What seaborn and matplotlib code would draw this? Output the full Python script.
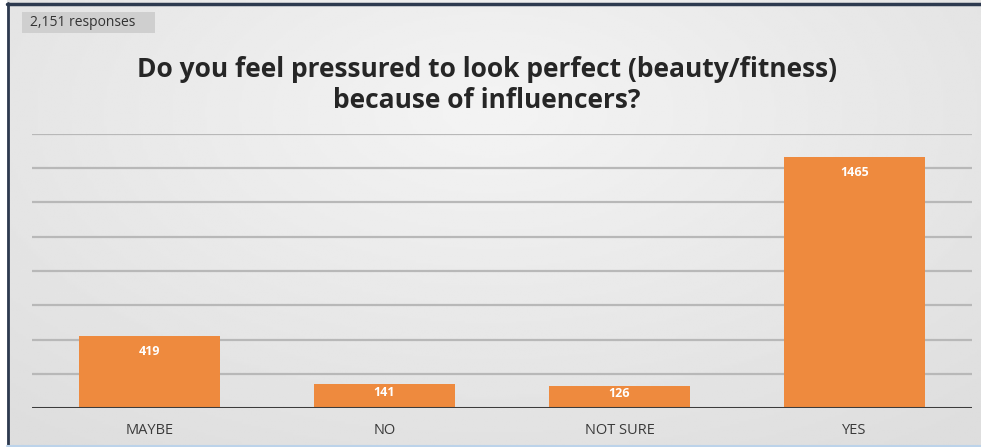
import numpy as np
import pandas as pd
import matplotlib
matplotlib.use("Agg")
import matplotlib.pyplot as plt
from matplotlib.lines import Line2D
from matplotlib.patches import Rectangle
import seaborn as sns

# Survey answers and their counts
categories = ["MAYBE", "NO", "NOT SURE", "YES"]
counts = [419, 141, 126, 1465]
total_label = "2,151 responses"
title = "Do you feel pressured to look perfect (beauty/fitness)\nbecause of influencers?"

df = pd.DataFrame({"answer": categories, "count": counts})

sns.set_theme(style="white")
plt.rcParams["font.family"] = ["Open Sans", "DejaVu Sans"]

W, H = 981, 447
fig = plt.figure(figsize=(W / 100, H / 100), dpi=100)
fig.patch.set_facecolor("#e3e3e3")

# soft light backdrop, brighter towards the upper middle
bg = fig.add_axes([0, 0, 1, 1], zorder=-10)
yy, xx = np.mgrid[0:1:200j, 0:1:400j]
d = np.sqrt(((xx - 0.5) / 0.75) ** 2 + ((yy - 0.25) / 0.9) ** 2)
shade = 0.955 - 0.085 * np.clip(d, 0, 1)
bg.imshow(shade, cmap="gray", vmin=0, vmax=1, aspect="auto",
          extent=[0, 1, 1, 0])
bg.set_axis_off()

left, right = 32 / W, 972 / W
bottom, top = (H - 408) / H, (H - 134) / H
ax = fig.add_axes([left, bottom, right - left, top - bottom])
ax.set_facecolor("none")

sns.barplot(data=df, x="answer", y="count", color="#ee8a3e",
            saturation=1, width=0.6, ax=ax, zorder=3, linewidth=0)

ax.set_ylim(0, 1600)
ax.set_xlim(-0.5, len(categories) - 0.5)
for yv in range(200, 1601, 200):
    ax.axhline(yv, color="#b8b8b8", lw=1.6, zorder=1)
ax.axhline(0, color="#3c3c3c", lw=2.2, zorder=4)

# value labels just inside the top of each bar
for i, v in enumerate(counts):
    ax.text(i, max(v - 87, v * 0.65), str(v), ha="center", va="center",
            color="white", fontsize=9, fontweight="bold", zorder=5)

ax.set_xlabel("")
ax.set_ylabel("")
ax.set_yticks([])
ax.tick_params(axis="x", length=0, pad=11, labelsize=10.5, colors="#3a3a3a")
for s in ax.spines.values():
    s.set_visible(False)

fig.text(487 / W, 1 - 85 / H, title, ha="center", va="center",
         fontsize=19, fontweight="bold", color="#262626", linespacing=1.22)

# response count badge
fig.add_artist(Rectangle((22 / W, 1 - 33 / H), 133 / W, 21 / H,
                         transform=fig.transFigure, facecolor="#cfcfcf",
                         edgecolor="none"))
fig.text(30 / W, 1 - 22 / H, total_label, ha="left", va="center",
         fontsize=10, color="#333333")

# window frame
fig.add_artist(Rectangle((0, 0), 7 / W, 1, transform=fig.transFigure,
                         facecolor="white", edgecolor="none"))
fig.add_artist(Line2D([7.5 / W, 7.5 / W], [0, 1 - 3 / H],
                      transform=fig.transFigure, color="#2d3a4f", lw=2))
fig.add_artist(Line2D([7 / W, 1], [1 - 3.5 / H, 1 - 3.5 / H],
                      transform=fig.transFigure, color="#2d3a4f", lw=2.5))
fig.add_artist(Line2D([7 / W, 1], [1.5 / H, 1.5 / H],
                      transform=fig.transFigure, color="#bcd3ea", lw=1.5))

fig.savefig("out.png", dpi=100)
